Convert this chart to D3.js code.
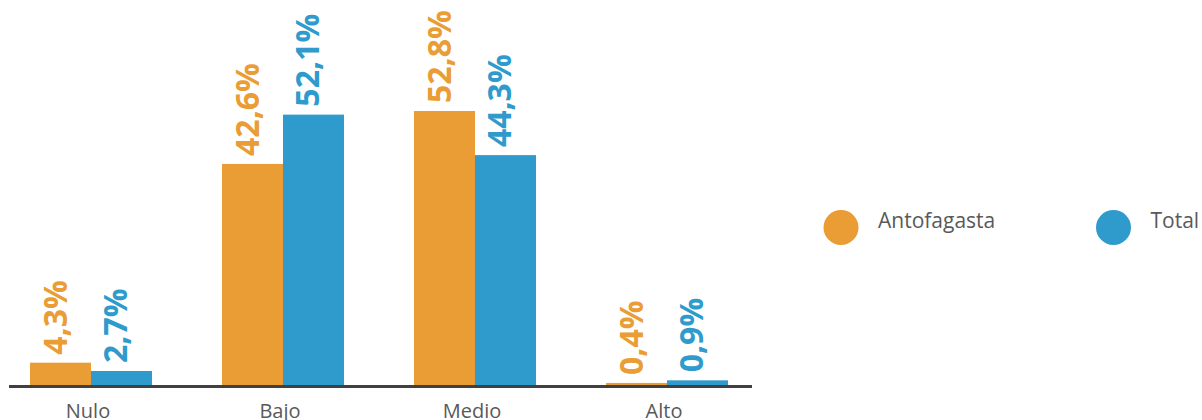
<!DOCTYPE html>
<html><head><meta charset="utf-8">
<script src="https://cdn.jsdelivr.net/npm/d3@7"></script>
<style>body{margin:0;background:#fff;}svg{display:block;}</style>
</head><body>
<svg id="chart" width="1202" height="420"></svg>
<script>
const categories = ["Nulo", "Bajo", "Medio", "Alto"];
const seriesNames = ["Antofagasta", "Total"];
const antofagasta = [4.3, 42.6, 52.8, 0.4];
const total = [2.7, 52.1, 44.3, 0.9];
const colors = ["#EA9C35", "#2F9BCC"];

const svg = d3.select("#chart");
const baseY = 385;
const x0 = d3.scaleBand().domain(categories).range([-5, 763]).paddingInner(0.3646).paddingOuter(0.1823);
const x1 = d3.scaleBand().domain(seriesNames).range([0, x0.bandwidth()]);
const y = d3.scaleLinear().domain([0, 52.8]).range([baseY, 111]);

const data = categories.map((c, i) => ({cat: c, vals: [antofagasta[i], total[i]]}));
const fmt = v => v.toFixed(1).replace(".", ",") + "%";

const g = svg.selectAll("g.grp").data(data).join("g").attr("class", "grp")
  .attr("transform", d => `translate(${x0(d.cat)},0)`);

g.selectAll("rect").data(d => d.vals.map((v, j) => ({v, s: seriesNames[j], j})))
  .join("rect")
  .attr("x", d => x1(d.s)).attr("width", x1.bandwidth())
  .attr("y", d => y(d.v)).attr("height", d => baseY - y(d.v))
  .attr("fill", d => colors[d.j]);

g.selectAll("text.val").data(d => d.vals.map((v, j) => ({v, s: seriesNames[j], j})))
  .join("text").attr("class", "val")
  .attr("transform", d => `translate(${x1(d.s) + x1.bandwidth() / 2 + 6},${y(d.v) - 8}) rotate(-90)`)
  .attr("text-anchor", "start")
  .attr("font-family", "Open Sans").attr("font-weight", 700).attr("font-size", 32)
  .attr("fill", d => colors[d.j])
  .text(d => fmt(d.v));

// axis line
svg.append("line").attr("x1", 9).attr("x2", 752).attr("y1", 386.5).attr("y2", 386.5)
  .attr("stroke", "#404040").attr("stroke-width", 3);

// category labels
const xAxis = d3.axisBottom(x0).tickSize(0).tickPadding(0);
const ax = svg.append("g").attr("transform", `translate(-3,${baseY})`).call(xAxis);
ax.select(".domain").remove();
ax.selectAll("text").attr("font-family", "Open Sans").attr("font-size", 20)
  .attr("fill", "#595959").attr("dy", null).attr("y", 33);

// legend
const leg = svg.append("g");
const legX = [841, 1113.5];
seriesNames.forEach((s, i) => {
  leg.append("circle").attr("cx", legX[i]).attr("cy", 227.5).attr("r", 17.5).attr("fill", colors[i]);
  leg.append("text").attr("x", legX[i] + 37).attr("y", 227.5)
    .attr("font-family", "Open Sans").attr("font-size", 21).attr("fill", "#595959").text(s);
});
</script>
</body></html>
